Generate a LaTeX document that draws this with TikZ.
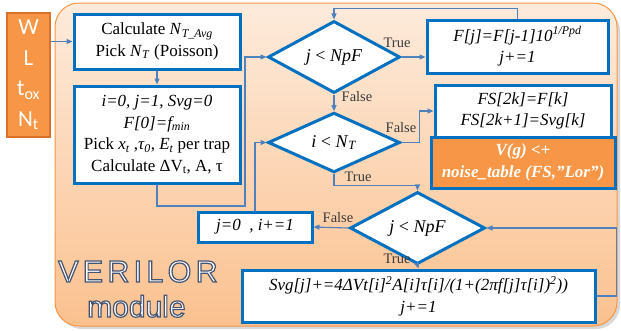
\documentclass[tikz,border=0pt]{standalone}
\usepackage{fontspec}
\setmainfont{Liberation Serif}
\newfontfamily\uisans{Carlito}
\newfontfamily\logosans[LetterSpace=14]{Liberation Sans}
\newfontfamily\modsans{Liberation Sans}
\usetikzlibrary{shapes.geometric,arrows.meta}
\definecolor{bblue}{HTML}{0070C0}
\definecolor{cblue}{HTML}{4F81BD}
\definecolor{orng}{HTML}{F79646}
\definecolor{orngdark}{HTML}{D9712A}
\definecolor{bgtop}{HTML}{FDEBDC}
\definecolor{bgbot}{HTML}{FBC18F}
\definecolor{lbl}{HTML}{3A3A3A}
\newcommand\outlined[1]{\special{pdf:literal direct 2 Tr 1.2 w 0.27 0.33 0.45 RG}#1\special{pdf:literal direct 0 Tr}}
\tikzset{
  box/.style={draw=bblue, line width=3pt, fill=white, align=center, inner sep=0pt,
              font=\fontsize{17}{21.5}\selectfont},
  dia/.style={diamond, draw=bblue, line width=3pt, fill=white, inner sep=0pt,
              font=\fontsize{18}{21}\selectfont},
  conn/.style={draw=cblue, line width=1.1pt, -{Triangle[length=6pt,width=5pt]}},
  lab/.style={font=\fontsize{14.5}{16}\selectfont, text=lbl, inner sep=0pt},
}
\begin{document}
\begin{tikzpicture}[x=1pt,y=-1pt]
\useasboundingbox (0,0) rectangle (621,330);
% module background
\fill[black, opacity=0.15, rounded corners=24pt] (58,7) rectangle (620,329);
\shade[top color=bgtop, bottom color=bgbot, rounded corners=24pt] (55,3) rectangle (617,326);
\draw[orng, line width=1pt, rounded corners=24pt] (55,3) rectangle (617,326);

% inputs
\node[draw=orngdark, line width=1.2pt, fill=orng, minimum width=43pt, minimum height=124pt,
      inner sep=0pt, align=center, text=white, font=\uisans\fontsize{23}{30.5}\selectfont]
      (wl) at (28.5,75) {W\\L\\t\textsubscript{ox}\\N\textsubscript{t}};

% boxes
\node[box, minimum width=166pt, minimum height=55pt] (box1) at (157,41.5)
  {Calculate \textit{N}\textsubscript{\textit{T\_Avg}}\\Pick \textit{N}\textsubscript{\textit{T}} (Poisson)};
\node[box, minimum width=166pt, minimum height=97pt] (box2) at (157,134.5)
  {\textit{i=0, j=1, Svg=0}\\\textit{F[0]=f\textsubscript{min}}\\Pick \textit{x\textsubscript{t}} ,\textit{τ\textsubscript{0}}, \textit{E\textsubscript{t}} per trap\\Calculate ΔV\textsubscript{t}, A, τ};
\node[dia, minimum width=132pt, minimum height=60pt] (d1) at (334,57) {\textit{j} < \textit{NpF}};
\node[box, minimum width=181pt, minimum height=53pt] (box3) at (517.5,46.5)
  {\textit{F[j]=F[j-1]10\textsuperscript{1/Ppd}}\\\textit{j+=1}};
\node[dia, minimum width=132pt, minimum height=59pt] (d2) at (334,142.5) {\textit{i} < \textit{N}\textsubscript{\textit{T}}};
\node[box, minimum width=176pt, minimum height=52pt] (box4) at (523,111)
  {\textit{FS[2k]=F[k]}\\\textit{FS[2k+1]=Svg[k]}};
\node[box, fill=orng, text=white, minimum width=184pt, minimum height=51pt] (box5) at (523,162.5)
  {\bfseries\itshape V(g) <+\\\bfseries\itshape noise\_table (FS,”Lor”)};
\node[dia, minimum width=135pt, minimum height=59pt] (d3) at (417.5,228) {\textit{j} < \textit{NpF}};
\node[box, minimum width=114pt, minimum height=30pt] (j0) at (255,227) {\textit{j=0~ , i+=1}};
\node[box, minimum width=353pt, minimum height=52pt] (box6) at (418.5,296)
  {\textit{Svg[j]+=4ΔVt[i]\textsuperscript{2}A[i]τ[i]/(1+(2πf[j]τ[i])\textsuperscript{2}))}\\\textit{j+=1}};

% module label
\node[inner sep=0pt, anchor=base west, text=white, font=\logosans\fontsize{30.5}{34}\selectfont] (vlab) at (58,282) {\outlined{VERILOR}};
\node[inner sep=0pt, anchor=base west, text=white, font=\modsans\fontsize{30}{34}\selectfont] (mlab) at (87,317) {\outlined{module}};

% connectors
\coordinate (c1) at (245,206);
\draw[conn] (wl.east |- box1.west) -- (box1.west);
\draw[conn] (box1.south) -- (box2.north);
\draw[conn] (box2.south) |- (c1) |- (d1.west);
\draw[conn] (d1.east) -- (d1.east -| box3.west);
\draw[conn] (box3.north) -- ++(0,-10) -| (d1.north);
\draw[conn] (d1.south) -- (d2.north);
\draw[conn] (d2.east) -- ++(18,0) |- (box4.west);
\draw[conn] (d2.south) -- ++(0,12) -| (d3.north);
\draw[conn] (d3.west) -- (j0.east);
\draw[conn] (d3.south) -- (box6.north);
\draw[conn] (box6.east) -- ++(20,0) |- (d3.east);
\draw[conn] (j0.north) |- (d2.west);

% labels
\node[lab] (t1) at (397,43) {True};
\node[lab] (f1) at (357,97) {False};
\node[lab] (f2) at (401,128) {False};
\node[lab] (t2) at (358,177) {True};
\node[lab] (f3) at (338,218) {False};
\node[lab] (t3) at (397,259) {True};
\end{tikzpicture}
\end{document}
